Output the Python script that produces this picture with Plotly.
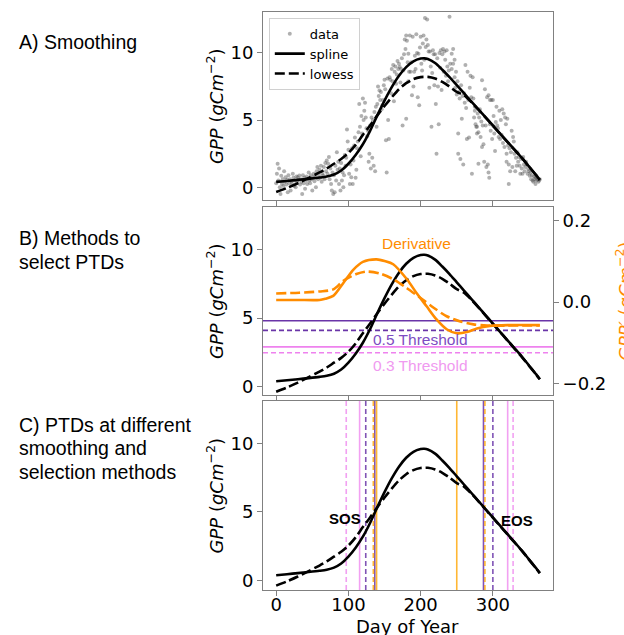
import plotly.graph_objects as go

# ---------------- data ----------------
obs_day = [0,1,2,3,4,5,6,7,8,9,10,11,12,13,14,15,16,17,18,19,20,21,22,23,24,25,26,27,28,29,
           30,31,32,33,34,35,36,37,38,39,40,41,42,43,44,45,46,47,48,49,50,51,52,53,54,55,56,57,58,59,
           60,61,62,63,64,65,66,67,68,69,70,71,72,73,74,75,76,77,78,79,80,81,82,83,84,85,
           86,87,88,89,90,91,92,93,94,95,96,97,98,99,100,101,102,103,104,105,106,107,108,109,110,
           111,112,113,114,115,116,117,118,119,120,121,122,123,124,125,126,127,128,129,130,
           131,132,133,134,135,136,137,138,139,140,141,142,143,144,145,146,147,148,149,150,
           151,152,153,154,155,156,157,158,159,160,161,162,163,164,165,166,167,168,169,170,
           171,172,173,174,175,176,177,178,179,180,180,181,182,183,183,184,
           185,186,187,188,189,190,191,192,193,194,195,196,197,198,199,200,201,202,203,204,205,
           206,207,208,209,210,211,212,213,214,215,216,217,218,219,220,221,222,223,224,225,
           226,227,228,229,230,231,232,233,234,235,236,237,238,239,240,241,243,243,245,245,247,247,
           248,249,250,251,252,252,253,254,255,256,257,258,259,260,261,262,263,264,265,266,267,
           268,269,270,271,272,273,274,275,275,276,277,278,278,279,280,280,281,282,283,284,285,285,
           286,287,288,289,290,291,292,293,294,294,295,296,296,297,298,299,300,300,301,302,303,
           304,305,306,307,308,309,310,311,312,313,314,315,316,317,318,319,319,320,321,322,322,
           323,324,325,326,327,328,329,330,331,332,333,334,335,336,337,338,339,340,341,342,343,
           344,345,346,347,348,349,350,351,352,353,354,355,356,357,358,359,359,360,361,362,363,364,365]
obs_gpp = [0.3,1.0,1.75,0.5,1.4,0.0,-0.5,0.85,0.25,0.6,0.1,1.2,0.4,0.75,0.2,0.55,-0.37,0.9,0.3,0.6,
           -0.25,0.45,0.25,1.0,0.7,0.1,0.5,0.0,0.8,0.35,
           0.75,0.55,0.87,0.2,0.6,0.4,-0.5,0.9,0.3,0.7,-0.12,0.5,0.8,0.25,0.6,1.1,0.5,0.3,0.9,0.6,
           -0.25,0.75,1.0,0.45,0.8,0.0,1.2,1.5,0.6,0.9,
           1.3,0.7,1.6,0.4,1.0,0.87,1.5,0.6,1.8,1.2,2.0,1.0,1.75,2.25,0.6,1.4,0.25,-0.25,1.1,-0.5,
           0.9,-0.37,1.6,0.5,2.6,1.3,
           1.9,0.25,1.4,-0.25,1.8,0.5,1.1,0.0,0.9,2.4,1.6,2.2,4.3,3.4,2.8,1.0,0.25,1.7,0.75,2.9,
           0.25,2.0,3.1,3.7,0.7,
           1.3,2.9,3.4,4.1,6.2,4.5,2.3,5.3,4.0,6.6,5.0,5.7,6.3,5.2,4.4,3.8,4.2,1.9,2.5,4.6,
           1.4,5.2,2.2,5.0,1.6,5.6,1.2,6.0,4.5,6.2,7.5,6.8,7.2,6.5,7.1,5.8,6.1,6.5,7.6,8.0,
           7.3,3.5,1.1,8.1,5.0,3.6,8.2,8.0,7.0,8.8,7.9,9.1,6.4,8.6,9.0,7.7,8.4,9.4,8.8,9.2,
           8.95,7.8,8.8,9.6,4.6,8.7,9.9,11.0,10.3,11.3,5.1,10.9,9.3,9.95,7.9,8.6,
           11.3,8.6,9.3,6.85,11.2,7.5,8.6,9.8,8.8,11.4,10.0,6.7,9.95,6.1,10.4,11.2,9.2,8.7,10.7,11.3,9.5,
           12.6,10.45,11.0,12.5,10.6,10.1,7.4,10.1,9.0,4.5,8.5,10.2,9.9,7.6,9.9,6.2,2.5,9.6,7.5,4.7,
           10.0,8.9,10.2,7.25,9.9,10.3,8.6,10.1,9.5,8.3,10.2,9.0,7.9,8.7,12.7,9.2,9.95,8.8,10.3,9.2,8.2,9.5,
           7.4,8.6,6.9,7.9,4.0,2.5,7.1,6.6,2.1,7.6,5.1,6.8,1.7,7.0,6.3,9.1,5.9,3.6,8.6,6.5,3.7,
           7.4,8.3,6.7,1.0,8.2,6.6,5.2,6.0,5.7,4.7,4.5,4.0,4.5,5.5,1.75,4.1,5.2,5.8,3.75,4.9,7.96,3.0,
           4.6,3.2,1.9,7.3,4.6,1.5,6.7,1.7,6.85,1.1,0.7,6.5,4.7,4.2,6.5,3.6,4.6,6.5,5.3,4.0,2.7,
           4.85,6.0,4.6,4.4,3.75,5.7,3.6,5.0,3.9,5.8,3.3,5.5,3.0,5.2,4.7,2.5,1.9,5.1,3.1,0.25,1.7,
           2.9,1.2,2.6,4.2,1.5,3.75,3.4,2.5,1.2,2.2,1.6,2.6,1.9,2.25,1.6,1.0,2.1,1.4,1.0,2.25,1.7,
           1.2,1.5,1.9,1.7,1.0,1.35,1.2,0.85,1.1,0.6,0.9,0.5,0.4,0.8,0.6,0.75,0.25,0.5,0.75,0.6,0.4,0.5,0.6]

curve_day = [0,15,30,45,60,70,80,90,100,110,120,130,140,150,160,170,180,190,200,205,210,
             220,230,240,250,260,270,280,290,300,310,320,330,340,350,360,365]
spline_gpp = [0.40,0.47,0.55,0.63,0.72,0.80,0.95,1.25,1.75,2.4,3.2,4.2,5.35,6.45,7.45,8.3,8.95,9.38,9.58,9.6,9.55,
              9.25,8.75,8.2,7.6,7.0,6.4,5.8,5.2,4.6,4.0,3.4,2.8,2.2,1.55,0.9,0.55]
lowess_gpp = [-0.36,-0.05,0.3,0.7,1.1,1.4,1.75,2.1,2.55,3.15,3.9,4.6,5.35,6.05,6.7,7.3,7.75,8.05,8.2,8.22,8.22,
              8.1,7.85,7.5,7.1,6.85,6.35,5.78,5.18,4.58,3.98,3.38,2.78,2.18,1.53,0.88,0.55]

dspline_day = [0,30,60,68,79,93,107,120,139,150,162,181,194,208,222,236,250,264,278,296,320,365]
dspline_val = [0.005,0.005,0.005,0.008,0.015,0.047,0.08,0.099,0.105,0.101,0.093,0.056,0.023,-0.01,
               -0.043,-0.067,-0.077,-0.074,-0.065,-0.059,-0.057,-0.057]
dlowess_day = [0,32,60,79,93,111,125,144,162,181,199,218,236,255,273,292,320,365]
dlowess_val = [0.021,0.023,0.026,0.031,0.052,0.069,0.075,0.07,0.056,0.034,0.011,-0.014,-0.035,
               -0.048,-0.055,-0.058,-0.058,-0.058]

thr_labels = ["0.5 spline", "0.5 lowess", "0.3 spline", "0.3 lowess"]
thr_values = [4.8, 4.1, 2.9, 2.47]

ptd_method = ["thr30_lowess", "thr30_spline", "thr50_lowess", "thr50_spline", "deriv_lowess", "deriv_spline"]
sos_day = [97, 115.5, 124, 136.5, 134.5, 139]
eos_day = [328, 320.5, 300, 287, 289, 250]

x_ticks = [0, 100, 200, 300]
y_ticks = [0, 5, 10]
y2_ticks = [-0.2, 0.0, 0.2]

# ---------------- styles ----------------
ORANGE = "#FF8C00"
PURPLE = "#6a35a8"
PINK = "#EE82EE"
GRAY = "#808080"
BIGDASH = "10px,4px"
SMALLDASH = "5px,3px"

fig = go.Figure()

# Panel A
fig.add_trace(go.Scatter(x=obs_day, y=obs_gpp, mode="markers", name="data",
                         marker=dict(size=4, color="rgba(80,80,80,0.45)"),
                         xaxis="x", yaxis="y"))
fig.add_trace(go.Scatter(x=curve_day, y=spline_gpp, mode="lines", name="spline",
                         line=dict(color="black", width=2.6, shape="spline", smoothing=0.8),
                         xaxis="x", yaxis="y"))
fig.add_trace(go.Scatter(x=curve_day, y=lowess_gpp, mode="lines", name="lowess",
                         line=dict(color="black", width=2.6, dash=BIGDASH, shape="spline", smoothing=0.8),
                         xaxis="x", yaxis="y"))

# Panel B
fig.add_trace(go.Scatter(x=curve_day, y=spline_gpp, mode="lines", showlegend=False,
                         line=dict(color="black", width=2.6, shape="spline", smoothing=0.8),
                         xaxis="x2", yaxis="y2"))
fig.add_trace(go.Scatter(x=curve_day, y=lowess_gpp, mode="lines", showlegend=False,
                         line=dict(color="black", width=2.6, dash=BIGDASH, shape="spline", smoothing=0.8),
                         xaxis="x2", yaxis="y2"))
fig.add_trace(go.Scatter(x=dspline_day, y=dspline_val, mode="lines", showlegend=False,
                         line=dict(color=ORANGE, width=2.6, shape="spline", smoothing=0.8),
                         xaxis="x2", yaxis="y4"))
fig.add_trace(go.Scatter(x=dlowess_day, y=dlowess_val, mode="lines", showlegend=False,
                         line=dict(color=ORANGE, width=2.6, dash=BIGDASH, shape="spline", smoothing=0.8),
                         xaxis="x2", yaxis="y4"))

# Panel C
fig.add_trace(go.Scatter(x=curve_day, y=spline_gpp, mode="lines", showlegend=False,
                         line=dict(color="black", width=2.6, shape="spline", smoothing=0.8),
                         xaxis="x3", yaxis="y3"))
fig.add_trace(go.Scatter(x=curve_day, y=lowess_gpp, mode="lines", showlegend=False,
                         line=dict(color="black", width=2.6, dash=BIGDASH, shape="spline", smoothing=0.8),
                         xaxis="x3", yaxis="y3"))

shapes = []
thr_styles = [(PURPLE, None), (PURPLE, SMALLDASH), (PINK, None), (PINK, SMALLDASH)]
for v, (c, d) in zip(thr_values, thr_styles):
    ln = dict(color=c, width=1.6)
    if d:
        ln["dash"] = d
    shapes.append(dict(type="line", xref="x2 domain", x0=0, x1=1, yref="y2", y0=v, y1=v,
                       line=ln, layer="below"))

method_styles = {
    "thr30_lowess": ("rgba(238,130,238,0.75)", SMALLDASH),
    "thr30_spline": ("rgba(238,130,238,0.75)", None),
    "thr50_lowess": ("rgba(106,53,168,0.85)", SMALLDASH),
    "thr50_spline": ("rgba(106,53,168,0.85)", None),
    "deriv_lowess": ("rgba(255,165,0,0.8)", SMALLDASH),
    "deriv_spline": ("rgba(255,165,0,0.8)", None),
}
for m, s, e in zip(ptd_method, sos_day, eos_day):
    c, d = method_styles[m]
    for dd in (s, e):
        ln = dict(color=c, width=1.6)
        if d:
            ln["dash"] = d
        shapes.append(dict(type="line", xref="x3", x0=dd, x1=dd, yref="y3 domain", y0=0, y1=1,
                           line=ln, layer="below"))

ax_common = dict(showline=True, linecolor=GRAY, linewidth=1, mirror=True, ticks="outside",
                 ticklen=5, tickcolor=GRAY, zeroline=False, showgrid=False)
xr = [-18.25, 383.25]

def px_to_py(py):
    return (590 - py) / 578.0

def px_to_px(px):
    return (px - 263) / 290.0

annotations = []
LF = "Liberation Sans, Arial, sans-serif"
for txt, py in [("A) Smoothing", 41.7), ("B) Methods to", 238.3), ("select PTDs", 262.3),
                ("C) PTDs at different", 425), ("smoothing and", 448), ("selection methods", 472)]:
    annotations.append(dict(text=txt, xref="paper", yref="paper", x=px_to_px(17), y=px_to_py(py),
                            xanchor="left", yanchor="middle", showarrow=False,
                            font=dict(family=LF, size=19.5, color="black")))

ytitle = "<i>GPP</i> (<i>gCm</i><sup>−2</sup>)"
for py in [106, 301, 495.5]:
    annotations.append(dict(text=ytitle, xref="paper", yref="paper", x=px_to_px(215), y=px_to_py(py),
                            xanchor="center", yanchor="middle", textangle=-90, showarrow=False,
                            font=dict(size=18, color="black")))
annotations.append(dict(text="<i>GPP′</i> (<i>gCm</i><sup>−2</sup>)", xref="paper", yref="paper",
                        x=px_to_px(624), y=px_to_py(301), xanchor="center", yanchor="middle",
                        textangle=-90, showarrow=False, font=dict(size=18, color=ORANGE)))
annotations.append(dict(text="Day of Year", xref="paper", yref="paper", x=px_to_px(407.5),
                        y=px_to_py(626), xanchor="center", yanchor="middle", showarrow=False,
                        font=dict(size=18, color="black")))
annotations.append(dict(text="Derivative", xref="x2", yref="y2", x=194.4, y=10.39, showarrow=False,
                        font=dict(family=LF, size=15.5, color=ORANGE)))
annotations.append(dict(text="0.5 Threshold", xref="x2", yref="y2", x=200, y=3.45, showarrow=False,
                        font=dict(family=LF, size=15.5, color="#7d4cc2")))
annotations.append(dict(text="0.3 Threshold", xref="x2", yref="y2", x=200, y=1.53, showarrow=False,
                        font=dict(family=LF, size=15.5, color="#f09af0")))
annotations.append(dict(text="<b>SOS</b>", xref="x3", yref="y3", x=95.8, y=4.54, showarrow=False,
                        font=dict(family=LF, size=15, color="black")))
annotations.append(dict(text="<b>EOS</b>", xref="x3", yref="y3", x=333, y=4.37, showarrow=False,
                        font=dict(family=LF, size=15, color="black")))

fig.update_layout(
    width=624, height=635,
    margin=dict(l=263, r=71, t=12, b=45),
    paper_bgcolor="white", plot_bgcolor="white",
    font=dict(family="DejaVu Sans", size=18, color="black"),
    showlegend=True,
    legend=dict(x=0.02, y=0.99, xanchor="left", yanchor="top", bgcolor="rgba(255,255,255,0.9)",
                bordercolor="#d0d0d0", borderwidth=1, font=dict(size=13), itemwidth=30,
                tracegroupgap=0),
    xaxis=dict(domain=[0, 1], range=xr, anchor="y", tickvals=x_ticks, showticklabels=False, **ax_common),
    yaxis=dict(domain=[px_to_py(200), 1], range=[-0.95, 13.05], anchor="x", tickvals=y_ticks, **ax_common),
    xaxis2=dict(domain=[0, 1], range=xr, anchor="y2", tickvals=x_ticks, showticklabels=False, **ax_common),
    yaxis2=dict(domain=[px_to_py(395), px_to_py(207)], range=[-0.6, 13.08], anchor="x2",
                tickvals=y_ticks, **ax_common),
    yaxis4=dict(overlaying="y2", side="right", anchor="x2", range=[-0.229, 0.234], tickvals=y2_ticks,
                tickformat=".1f", showline=True, linecolor=GRAY, ticks="outside", ticklen=5,
                tickcolor=GRAY, zeroline=False, showgrid=False),
    xaxis3=dict(domain=[0, 1], range=xr, anchor="y3", tickvals=x_ticks, ticklabelstandoff=-7,
                **ax_common),
    yaxis3=dict(domain=[0, px_to_py(401)], range=[-0.68, 13.08], anchor="x3", tickvals=y_ticks, **ax_common),
    shapes=shapes,
    annotations=annotations,
)

fig.write_html("out.html", config={"displayModeBar": False},
               post_script="document.body.style.margin='0';document.body.style.overflow='hidden';")
